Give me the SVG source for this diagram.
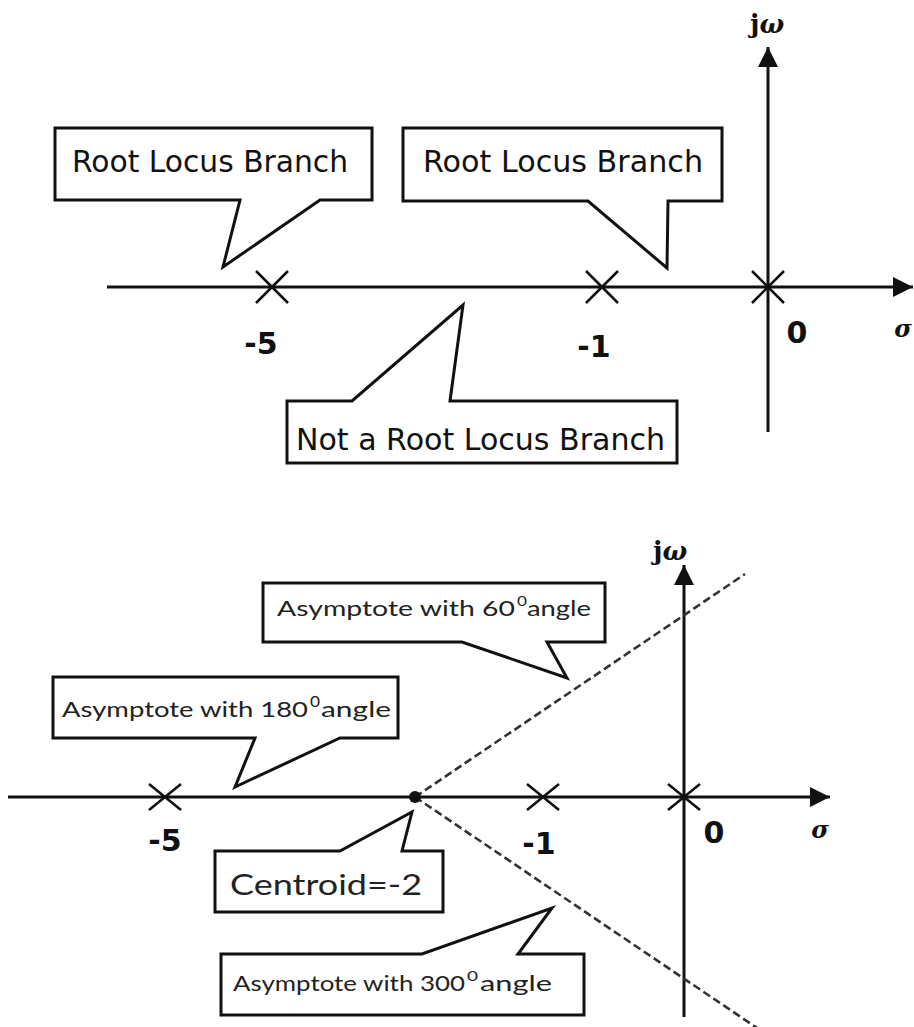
<svg xmlns="http://www.w3.org/2000/svg" width="914" height="1027" viewBox="0 0 914 1027">
<defs>
<style>
.axis{stroke:#111;stroke-width:3;fill:none}
.x{stroke:#111;stroke-width:2.6;fill:none}
.call{fill:#fff;stroke:#111;stroke-width:3;stroke-linejoin:miter}
.dash{stroke:#333;stroke-width:2.6;stroke-dasharray:8 4;fill:none}
.t1{font-family:"DejaVu Sans",Verdana,sans-serif;font-size:30px;fill:#111}
.t2{font-family:Lato,"Open Sans",sans-serif;fill:#222}
.lab{font-family:"DejaVu Sans",Verdana,sans-serif;font-weight:bold;font-size:30px;fill:#111}
.sig{font-family:"DejaVu Serif","Liberation Serif",serif;font-style:italic;font-weight:bold;font-size:24px;fill:#111}
.jw{font-family:"DejaVu Serif","Liberation Serif",serif;font-weight:bold;font-size:26px;fill:#111}
</style>
<marker id="ah" viewBox="0 0 20 20" refX="20" refY="10" markerWidth="20" markerHeight="20" markerUnits="userSpaceOnUse" orient="auto">
<path d="M0,0 L20,10 L0,20 Z" fill="#111"/>
</marker>
</defs>
<rect width="914" height="1027" fill="#fff"/>

<g id="connectors">
<line class="axis" x1="107" y1="287" x2="913" y2="287" marker-end="url(#ah)"/>
<line class="axis" x1="768" y1="432" x2="768" y2="47" marker-end="url(#ah)"/>
<line class="axis" x1="8" y1="797" x2="830" y2="797" marker-end="url(#ah)"/>
<line class="axis" x1="684" y1="1017" x2="684" y2="565" marker-end="url(#ah)"/>
<line class="dash" x1="415" y1="797" x2="745" y2="574"/>
<line class="dash" x1="415" y1="797" x2="763" y2="1032"/>
</g>

<g id="poles-top">
<path class="x" d="M256,271 L288,303 M256,303 L288,271"/>
<path class="x" d="M586,271 L618,303 M586,303 L618,271"/>
<path class="x" d="M752,271 L784,303 M752,303 L784,271"/>
</g>
<g id="poles-bottom">
<path class="x" d="M149,784 L181,810 M149,810 L181,784"/>
<path class="x" d="M527,784 L559,810 M527,810 L559,784"/>
<path class="x" d="M668,784 L700,810 M668,810 L700,784"/>
<circle cx="415" cy="797" r="6" fill="#111"/>
</g>

<g id="labels-top">
<text class="lab" x="261" y="354" text-anchor="middle">-5</text>
<text class="lab" x="594" y="357" text-anchor="middle">-1</text>
<text class="lab" x="797" y="343" text-anchor="middle">0</text>
<text class="sig" x="903" y="337" text-anchor="middle">σ</text>
<text class="jw" x="750" y="33">j<tspan font-style="italic">ω</tspan></text>
</g>
<g id="labels-bottom">
<text class="lab" x="165" y="851" text-anchor="middle" font-size="28">-5</text>
<text class="lab" x="539" y="854" text-anchor="middle" font-size="28">-1</text>
<text class="lab" x="714" y="843" text-anchor="middle" font-size="28">0</text>
<text class="sig" x="820" y="838" text-anchor="middle">σ</text>
<text class="jw" x="653" y="560">j<tspan font-style="italic">ω</tspan></text>
</g>

<g id="callout-rlb-left">
<path class="call" d="M55,128 L372,128 L372,200 L320,200 L223,267 L240,200 L55,200 Z"/>
<text class="t1" x="72" y="172" textLength="276" lengthAdjust="spacingAndGlyphs">Root Locus Branch</text>
</g>
<g id="callout-rlb-right">
<path class="call" d="M403,128 L722,128 L722,201 L668,201 L667,268 L588,201 L403,201 Z"/>
<text class="t1" x="423" y="172" textLength="280" lengthAdjust="spacingAndGlyphs">Root Locus Branch</text>
</g>
<g id="callout-not">
<path class="call" d="M287,401 L352,401 L463,305 L450,401 L677,401 L677,463 L287,463 Z"/>
<text class="t1" x="296" y="450" textLength="369" lengthAdjust="spacingAndGlyphs">Not a Root Locus Branch</text>
</g>

<g id="callout-60">
<path class="call" d="M263,583 L605,583 L605,642 L547,642 L567,678 L462,642 L263,642 Z"/>
<text class="t2" font-size="21" x="277" y="616" textLength="238" lengthAdjust="spacingAndGlyphs">Asymptote with 60</text>
<text class="t2" font-size="14" x="517" y="606" textLength="10" lengthAdjust="spacingAndGlyphs">0</text>
<text class="t2" font-size="21" x="527" y="616" textLength="64" lengthAdjust="spacingAndGlyphs">angle</text>
</g>
<g id="callout-180">
<path class="call" d="M53,677 L398,677 L398,738 L340,738 L235,787 L255,738 L53,738 Z"/>
<text class="t2" font-size="22" x="62" y="717" textLength="246" lengthAdjust="spacingAndGlyphs">Asymptote with 180</text>
<text class="t2" font-size="15" x="310" y="707" textLength="10" lengthAdjust="spacingAndGlyphs">0</text>
<text class="t2" font-size="22" x="321" y="717" textLength="70" lengthAdjust="spacingAndGlyphs">angle</text>
</g>
<g id="callout-centroid">
<path class="call" d="M215,851 L340,851 L412,812 L402,851 L443,851 L443,912 L215,912 Z"/>
<text class="t2" font-size="28" x="230" y="895" textLength="192" lengthAdjust="spacingAndGlyphs">Centroid=-2</text>
</g>
<g id="callout-300">
<path class="call" d="M221,954 L422,954 L552,908 L518,954 L584,954 L584,1015 L221,1015 Z"/>
<text class="t2" font-size="21" x="233" y="991" textLength="232" lengthAdjust="spacingAndGlyphs">Asymptote with 300</text>
<text class="t2" font-size="14" x="467" y="981" textLength="11" lengthAdjust="spacingAndGlyphs">0</text>
<text class="t2" font-size="21" x="480" y="991" textLength="72" lengthAdjust="spacingAndGlyphs">angle</text>
</g>
</svg>
